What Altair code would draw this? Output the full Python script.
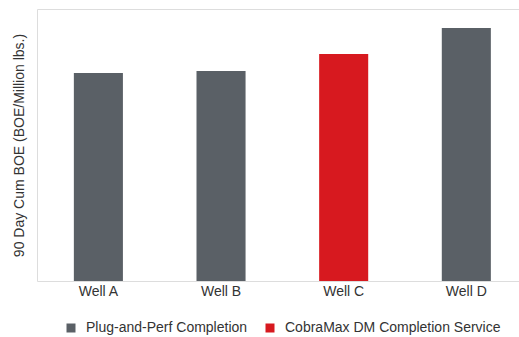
import altair as alt
import pandas as pd

wells = ["Well A", "Well B", "Well C", "Well D"]
cum_boe = [208, 210, 227, 253]
series = ["Plug-and-Perf Completion", "Plug-and-Perf Completion",
          "CobraMax DM Completion Service", "Plug-and-Perf Completion"]
legend_order = ["Plug-and-Perf Completion", "CobraMax DM Completion Service"]
colors = ["#5a6066", "#d7191f"]
y_max = 272

df = pd.DataFrame({"well": wells, "value": cum_boe, "series": series})

FONT = "Liberation Sans"

chart = alt.Chart(df).mark_bar().encode(
    x=alt.X("well:N", sort=wells, title=None,
            scale=alt.Scale(paddingInner=0.6, paddingOuter=0.265, align=0.567),
            axis=alt.Axis(labelAngle=0, ticks=False, domain=False, labelPadding=3,
                          labelFont=FONT, labelFontSize=14, labelColor="#333333")),
    y=alt.Y("value:Q", title="90 Day Cum BOE (BOE/Million lbs.)",
            scale=alt.Scale(domain=[0, y_max], nice=False, zero=True),
            axis=alt.Axis(labels=False, ticks=False, domain=False, grid=False,
                          titleFont=FONT, titleFontSize=14, titleFontWeight="normal",
                          titleColor="#333333", titlePadding=11)),
    color=alt.Color("series:N",
                    scale=alt.Scale(domain=legend_order, range=colors),
                    legend=alt.Legend(title=None, orient="none", direction="horizontal",
                                      legendX=27, legendY=312,
                                      symbolType="square", symbolSize=81,
                                      symbolStrokeWidth=0,
                                      labelFont=FONT, labelFontSize=14,
                                      labelColor="#333333", labelLimit=400,
                                      labelOffset=8, columnPadding=15)),
).properties(
    width=482, height=272,
    autosize=alt.AutoSizeParams(type="none"),
    padding={"left": 37, "top": 9, "right": 0, "bottom": 56},
).configure_view(
    stroke="#a0a0a0", strokeWidth=1.3
).configure(background="white")

chart.save("out.html", embed_options={"renderer": "svg", "actions": False})
